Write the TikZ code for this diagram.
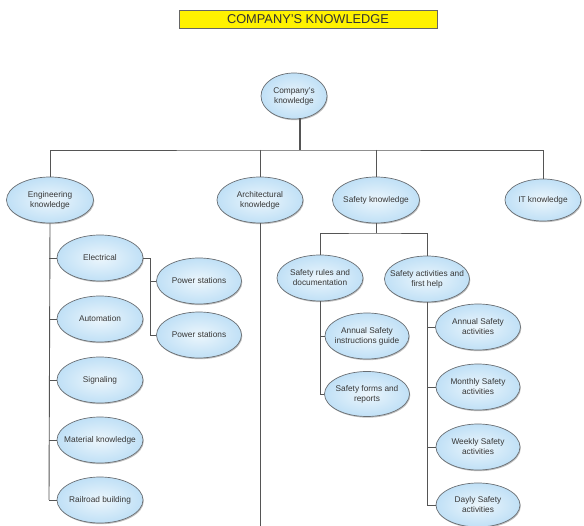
\documentclass[tikz,border=0pt]{standalone}
\usepackage{fontspec}
\setmainfont{Liberation Sans}
\usetikzlibrary{shapes.geometric,shadows}
\definecolor{ellfill}{RGB}{192,224,246}
\definecolor{ellin}{RGB}{236,246,252}
\definecolor{elledge}{RGB}{105,110,115}
\definecolor{conn}{RGB}{85,85,85}
\definecolor{txt}{RGB}{55,55,55}
\begin{document}
\begin{tikzpicture}[x=1pt,y=-1pt,
  bubble/.style={ellipse,draw=elledge,line width=0.7pt,inner ysep=0pt,inner xsep=-7pt,
    inner color=ellin,outer color=ellfill,
    minimum width=86pt,minimum height=46pt,align=center,text=txt,
    font=\fontsize{8.3}{10}\selectfont,
    drop shadow={shadow xshift=0.8pt,shadow yshift=-1.2pt,opacity=0.25,fill=black}},
  link/.style={draw=conn,line width=0.9pt},
  stem/.style={draw=conn,line width=1.8pt}]
\useasboundingbox (0,0) rectangle (584,526);
% title
\node[draw=black!60,fill=yellow,line width=0.7pt,minimum width=258pt,minimum height=18pt,inner sep=0pt,
  font=\fontsize{12.8}{13}\selectfont,text=black!80] (title) at (308,19) {COMPANY'S KNOWLEDGE};
% nodes
\node[bubble,minimum width=66pt] (comp) at (294,96) {Company's\\knowledge};
\node[bubble,minimum width=87pt] (eng) at (50,200) {Engineering\\knowledge};
\node[bubble] (arch) at (260,200) {Architectural\\knowledge};
\node[bubble,minimum width=87pt] (saf) at (376,200) {Safety knowledge};
\node[bubble,minimum width=76pt,minimum height=42pt] (it) at (543,200) {IT knowledge};

\node[bubble] (elec) at (100,258) {Electrical};
\node[bubble] (auto) at (100,319) {Automation};
\node[bubble] (sig) at (100,380) {Signaling};
\node[bubble] (mat) at (100,440) {Material knowledge};
\node[bubble] (rail) at (100,500) {Railroad building};
\node[bubble,minimum width=85pt] (ps1) at (199,281) {Power stations};
\node[bubble,minimum width=85pt] (ps2) at (199,335) {Power stations};

\node[bubble] (rules) at (320,278) {Safety rules and\\documentation};
\node[bubble,minimum width=85pt] (act) at (427,279) {Safety activities and\\first help};
\node[bubble,minimum width=84pt] (guide) at (367,336) {Annual Safety\\instructions guide};
\node[bubble,minimum width=85pt,minimum height=45pt] (forms) at (367,394) {Safety forms and\\reports};
\node[bubble,minimum width=85pt] (aact) at (478,327) {Annual Safety\\activities};
\node[bubble,minimum width=84pt] (mact) at (478,387) {Monthly Safety\\activities};
\node[bubble,minimum width=84pt] (wact) at (478,447) {Weekly Safety\\activities};
\node[bubble,minimum width=84pt,minimum height=44pt] (dact) at (478,505) {Dayly Safety\\activities};

% coordinates
\coordinate (cs) at (300,118.5);
\coordinate (bus) at (300,150);
\coordinate (engend) at (49,500);
\coordinate (archend) at (260,530);
\coordinate (safbar) at (376,233);
\coordinate (elecj) at (150,258);

% connectors
\draw[stem] (cs) -- (bus);
\draw[link] (eng.north) |- (bus) -| (it.north);
\draw[link] (bus -| arch.north) -- (arch.north);
\draw[link] (bus -| saf.north) -- (saf.north);
\draw[link] (eng.south) -- (engend);
\foreach \n in {elec,auto,sig,mat,rail} \draw[link] (\n.west) -- (\n.west -| engend);
\draw[link] (arch.south) -- (archend);
\draw[link] (elec.east) -- (elecj) |- (ps2.west);
\draw[link] (elecj |- ps1.west) -- (ps1.west);
\draw[link] (saf.south) -- (safbar);
\draw[link] (rules.north) |- (safbar) -| (act.north);
\draw[link] (rules.south) |- (forms.west);
\draw[link] (guide.west) -- (guide.west -| rules.south);
\draw[link] (act.south) |- (dact.west);
\foreach \n in {aact,mact,wact} \draw[link] (\n.west) -- (\n.west -| act.south);
\end{tikzpicture}
\end{document}
